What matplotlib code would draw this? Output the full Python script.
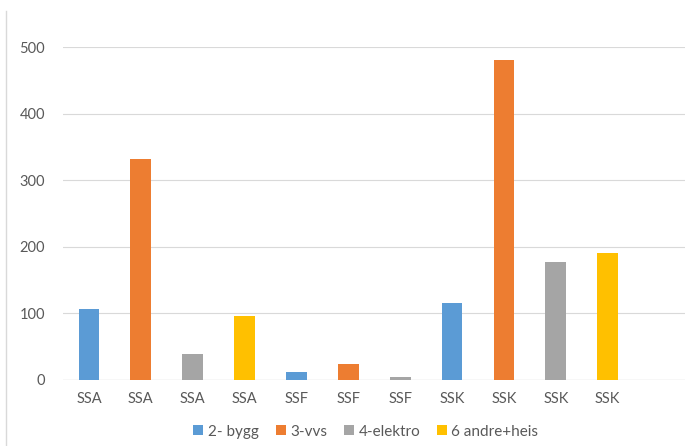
import matplotlib
matplotlib.use('Agg')
from matplotlib import pyplot as plt
from matplotlib.patches import Patch
from matplotlib.lines import Line2D

plt.rcParams['font.family'] = ['Lato', 'DejaVu Sans']

labels = ['SSA', 'SSA', 'SSA', 'SSA', 'SSF', 'SSF', 'SSF', 'SSK', 'SSK', 'SSK', 'SSK']
values = [106, 332, 39, 96, 12, 24, 4, 115, 481, 177, 191]
groups = ['2- bygg', '3-vvs', '4-elektro', '6 andre+heis',
          '2- bygg', '3-vvs', '4-elektro',
          '2- bygg', '3-vvs', '4-elektro', '6 andre+heis']
series = ['2- bygg', '3-vvs', '4-elektro', '6 andre+heis']
colors = {'2- bygg': '#5B9BD5', '3-vvs': '#ED7D31',
          '4-elektro': '#A5A5A5', '6 andre+heis': '#FFC000'}

fig = plt.figure(figsize=(6.97, 4.46), dpi=100)
ax = fig.add_axes([0.0904, 0.148, 0.893, 0.7466])

x = list(range(len(labels)))
ax.bar(x, values, width=0.4, color=[colors[g] for g in groups], zorder=3)

ax.set_xlim(-0.5, 11.5)
ax.set_ylim(0, 500)
ax.set_yticks([0, 100, 200, 300, 400, 500])
ax.set_xticks(x)
ax.set_xticklabels(labels)
ax.yaxis.grid(True, color='#d9d9d9', linewidth=0.8, zorder=0)
for s in ax.spines.values():
    s.set_visible(False)
ax.axhline(0, color='#d9d9d9', linewidth=0.9, zorder=2)
ax.tick_params(axis='both', length=0, colors='#595959', labelsize=10.5)
ax.tick_params(axis='y', pad=13)
ax.tick_params(axis='x', pad=9)

handles = [Patch(facecolor=colors[s], label=s) for s in series]
fig.legend(handles=handles, loc='center', bbox_to_anchor=(0.525, 0.032), ncol=4,
           frameon=False, fontsize=11, handlelength=0.65, handleheight=0.65,
           handletextpad=0.3, columnspacing=1.1, labelcolor='#595959')

fig.add_artist(Line2D([0.009, 0.009], [0.0, 0.975], color='#d9d9d9', linewidth=1,
                      transform=fig.transFigure))

fig.savefig('out.png', dpi=100)
